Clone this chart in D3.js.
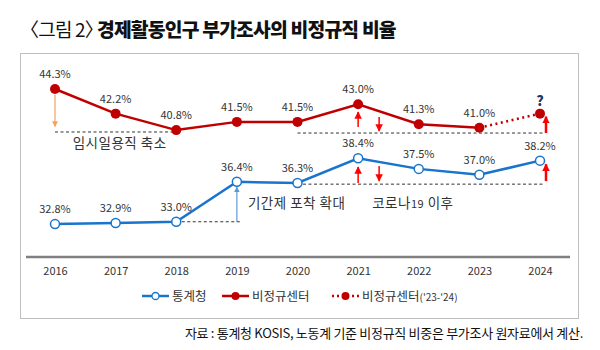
<!DOCTYPE html>
<html><head><meta charset="utf-8">
<script src="https://cdn.jsdelivr.net/npm/d3@7"></script>
<style>
body{margin:0;background:#fff;}
text{font-family:"Noto Sans CJK KR","Noto Sans",sans-serif;}
</style></head>
<body><svg id="c" width="600" height="350"></svg>
<script>
const years = [2016,2017,2018,2019,2020,2021,2022,2023,2024];
const kostat = [32.8,32.9,33.0,36.4,36.3,38.4,37.5,37.0,38.2];
const center = [44.3,42.2,40.8,41.5,41.5,43.0,41.3,41.0,null];
const centerProj = [null,null,null,null,null,null,null,41.0,42.2];
const seriesNames = ["통계청","비정규센터","비정규센터"];
const title1 = "〈그림 2〉";
const title2 = "경제활동인구 부가조사의 비정규직 비율";
const source = "자료 : 통계청 KOSIS, 노동계 기준 비정규직 비중은 부가조사 원자료에서 계산.";
// annotations (value space)
const dashLines = [
  {y0:2016, y1:2018, v:40.64},
  {y0:2020, y1:2024, v:40.55},
  {y0:2018, y1:2019, v:33.0},
  {y0:2020, y1:2024, v:36.2}
];
const arrows = [
  {year:2016, from:43.8, to:41.1, color:"#f4a460", w:1.2, dx:0},
  {year:2019, from:33.0, to:35.95, color:"#5b9bd5", w:1.2, dx:0},
  {year:2021, from:41.06, to:42.34, color:"#ff0000", w:1.5, dx:0},
  {year:2021, from:41.91, to:40.72, color:"#ff0000", w:1.5, dx:21},
  {year:2021, from:36.29, to:37.66, color:"#ff0000", w:1.5, dx:0},
  {year:2021, from:37.74, to:36.46, color:"#ff0000", w:1.5, dx:21},
  {year:2024, from:40.55, to:41.95, color:"#ff0000", w:2.5, dx:6},
  {year:2024, from:36.46, to:37.9, color:"#ff0000", w:2.5, dx:6}
];
const notes = [
  {text:"임시일용직 축소", year:2017, v:39.3, anchor:"middle", dx:4},
  {text:"기간제 포착 확대", year:2019, v:34.17, anchor:"start", dx:11},
  {text:"코로나", sub:"19", tail:" 이후", year:2021, v:34.17, anchor:"start", dx:14}
];

const svg = d3.select("#c");
const red="#c00000", blue="#1874cd";
const x = d3.scalePoint().domain(years).range([55,540]);
const y = d3.scaleLinear().domain([30,46]).range([257,69]);

// title
const t = svg.append("text").attr("x",20).attr("y",37).attr("fill","#111").attr("letter-spacing",-0.8);
t.append("tspan").attr("font-weight",400).attr("font-size",19).text(title1);
t.append("tspan").attr("font-weight",900).attr("font-size",19.3).attr("dx",-6).text(title2);

// frame
svg.append("rect").attr("x",20.5).attr("y",53.5).attr("width",558).attr("height",265).attr("fill","none").attr("stroke","#bfbfbf");

// axis
const ax = svg.append("g").attr("transform",`translate(0,${y(30)})`)
  .call(d3.axisBottom(x).tickSize(0).tickPadding(10).tickFormat(d=>d));
ax.select(".domain").attr("stroke","#808080").attr("stroke-width",2.5).attr("d","M26,0H570");
ax.selectAll("text").attr("font-size",11).attr("fill","#333").attr("font-family","'Noto Sans CJK KR',sans-serif");

// dashed lines
svg.append("g").selectAll("line").data(dashLines).join("line")
  .attr("x1",d=>x(d.y0)).attr("x2",d=>x(d.y1)+3).attr("y1",d=>y(d.v)).attr("y2",d=>y(d.v))
  .attr("stroke","#333").attr("stroke-width",1).attr("stroke-dasharray","3,2.5");

// arrow markers
const defs = svg.append("defs");
arrows.forEach((a,i)=>{
  defs.append("marker").attr("id","ah"+i).attr("viewBox","0 0 10 10").attr("refX",9).attr("refY",5)
    .attr("markerWidth",a.w>2?3:5).attr("markerHeight",a.w>2?3:5).attr("markerUnits","strokeWidth").attr("orient","auto")
    .append("path").attr("d","M0,0L10,5L0,10Z").attr("fill",a.color);
});
svg.append("g").selectAll("line").data(arrows).join("line")
  .attr("x1",d=>x(d.year)+d.dx).attr("x2",d=>x(d.year)+d.dx)
  .attr("y1",d=>y(d.from)).attr("y2",d=>y(d.to))
  .attr("stroke",d=>d.color).attr("stroke-width",d=>d.w)
  .attr("marker-end",(d,i)=>`url(#ah${i})`);

// lines
const line = d3.line().defined(d=>d[1]!=null).x(d=>x(d[0])).y(d=>y(d[1]));
svg.append("path").datum(years.map((yr,i)=>[yr,kostat[i]])).attr("d",line)
  .attr("fill","none").attr("stroke",blue).attr("stroke-width",2.5);
svg.append("path").datum(years.map((yr,i)=>[yr,center[i]])).attr("d",line)
  .attr("fill","none").attr("stroke",red).attr("stroke-width",2.5);
svg.append("path").datum(years.map((yr,i)=>[yr,centerProj[i]])).attr("d",line)
  .attr("fill","none").attr("stroke",red).attr("stroke-width",2.5).attr("stroke-dasharray","2,3.5");

// points
svg.append("g").selectAll("circle").data(years.map((yr,i)=>[yr,kostat[i]])).join("circle")
  .attr("cx",d=>x(d[0])).attr("cy",d=>y(d[1])).attr("r",4.5).attr("fill","#fff").attr("stroke",blue).attr("stroke-width",1.5);
const redPts = years.map((yr,i)=>[yr, center[i]!=null?center[i]:centerProj[i]]);
svg.append("g").selectAll("circle").data(redPts).join("circle")
  .attr("cx",d=>x(d[0])).attr("cy",d=>y(d[1])).attr("r",5).attr("fill",red);

// value labels
const lab = svg.append("g").attr("font-size",11).attr("fill","#333").attr("text-anchor","middle");
lab.selectAll("text.k").data(years.map((yr,i)=>[yr,kostat[i]])).join("text").attr("class","k")
  .attr("x",d=>x(d[0])).attr("y",d=>y(d[1])-11).text(d=>d[1].toFixed(1)+"%");
lab.selectAll("text.r").data(years.map((yr,i)=>[yr,center[i]]).filter(d=>d[1]!=null)).join("text").attr("class","r")
  .attr("x",d=>x(d[0])).attr("y",d=>y(d[1])-11).text(d=>d[1].toFixed(1)+"%");
svg.append("text").attr("x",x(2024)).attr("y",y(centerProj[8])-8).attr("text-anchor","middle")
  .attr("font-size",14).attr("font-weight",900).attr("fill","#1f3864").text("?");

// notes
const nt = svg.append("g").attr("font-size",13.5).attr("fill","#333");
notes.forEach(n=>{
  const tx = nt.append("text").attr("x",x(n.year)+n.dx).attr("y",y(n.v)).attr("text-anchor",n.anchor).attr("letter-spacing",0.5);
  tx.append("tspan").text(n.text);
  if(n.sub){ tx.append("tspan").attr("font-size",11).text(n.sub); tx.append("tspan").text(n.tail); }
});

// legend
const lg = svg.append("g").attr("transform","translate(0,296)").attr("font-size",12.5).attr("fill","#333");
const items = [
  {x:142, color:blue, dash:null, open:true, label:seriesNames[0]},
  {x:222, color:red, dash:null, open:false, label:seriesNames[1]},
  {x:332, color:red, dash:"2,3", open:false, label:seriesNames[2], suffix:"('23-'24)"}
];
items.forEach(it=>{
  lg.append("line").attr("x1",it.x).attr("x2",it.x+27).attr("y1",0).attr("y2",0)
    .attr("stroke",it.color).attr("stroke-width",2.5).attr("stroke-dasharray",it.dash);
  lg.append("circle").attr("cx",it.x+13.5).attr("cy",0).attr("r",it.open?3.5:4)
    .attr("fill",it.open?"#fff":it.color).attr("stroke",it.color).attr("stroke-width",it.open?1.3:0);
  const tx = lg.append("text").attr("x",it.x+30).attr("y",4.5);
  tx.append("tspan").text(it.label);
  if(it.suffix) tx.append("tspan").attr("font-size",10).text(it.suffix);
});

// source
svg.append("text").attr("x",583).attr("y",338).attr("text-anchor","end").attr("font-size",13)
  .attr("letter-spacing",-0.3).attr("fill","#111").text(source);
</script></body></html>
